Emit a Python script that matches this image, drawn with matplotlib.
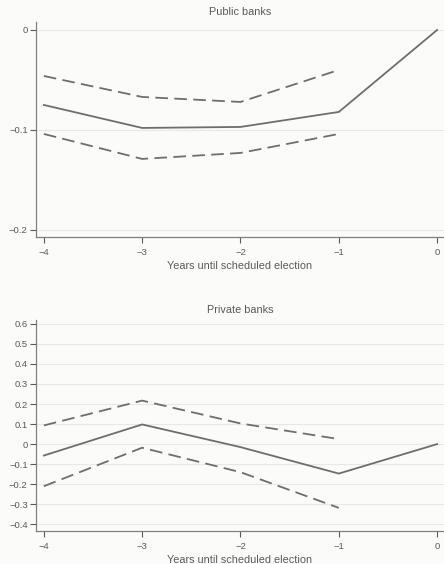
import matplotlib
matplotlib.use('Agg')
import matplotlib.pyplot as plt
import numpy as np

plt.rcParams['font.family'] = ['Liberation Sans', 'DejaVu Sans']

# Data
years = [-4, -3, -2, -1, 0]
years_ci = [-4, -3, -2, -1]

public_coef = [-0.075, -0.098, -0.097, -0.082, 0.0]
public_upper = [-0.046, -0.067, -0.072, -0.040]
public_lower = [-0.104, -0.129, -0.123, -0.104]

private_coef = [-0.057, 0.098, -0.015, -0.147, 0.0]
private_upper = [0.093, 0.217, 0.103, 0.025]
private_lower = [-0.210, -0.018, -0.140, -0.318]

public_ticks = [0, -0.1, -0.2]
public_ticklabels = ['0', '\u22120.1', '\u22120.2']
private_ticks = [0.6, 0.5, 0.4, 0.3, 0.2, 0.1, 0, -0.1, -0.2, -0.3, -0.4]
private_ticklabels = ['0.6', '0.5', '0.4', '0.3', '0.2', '0.1', '0',
                      '\u22120.1', '\u22120.2', '\u22120.3', '\u22120.4']
x_ticklabels = ['\u22124', '\u22123', '\u22122', '\u22121', '0']

line_col = '#6e6e6e'
text_col = '#5a5a5a'
grid_col = '#e8e8e8'

fig = plt.figure(figsize=(4.44, 5.64), dpi=100)
fig.patch.set_facecolor('#fbfbfa')

ax1 = fig.add_axes([0.081, 0.580, 0.919, 0.381])
ax2 = fig.add_axes([0.081, 0.059, 0.919, 0.374])


def style(ax, title, ticks, ticklabels, ylim):
    ax.set_facecolor('#fbfbfa')
    ax.set_title(title, fontsize=7.8, color=text_col, pad=5)
    ax.set_xlim(-4.08, 0.07)
    ax.set_ylim(*ylim)
    ax.set_xticks(years)
    ax.set_xticklabels(x_ticklabels)
    ax.set_yticks(ticks)
    ax.set_yticklabels(ticklabels)
    ax.set_xlabel('Years until scheduled election', fontsize=7.8, color=text_col, labelpad=3)
    ax.tick_params(labelsize=6.8, colors=text_col, length=4.5, width=0.8, direction='out')
    ax.tick_params(axis='y', pad=1.5)
    for s in ['top', 'right']:
        ax.spines[s].set_visible(False)
    for s in ['left', 'bottom']:
        ax.spines[s].set_color('#808080')
        ax.spines[s].set_linewidth(0.9)
    ax.yaxis.grid(True, color=grid_col, linewidth=0.8)
    ax.set_axisbelow(True)


style(ax1, 'Public banks', public_ticks, public_ticklabels, (-0.207, 0.008))
ax1.plot(years, public_coef, color=line_col, linewidth=1.3)
ax1.plot(years_ci, public_upper, color=line_col, linewidth=1.3, dashes=(7, 3.5))
ax1.plot(years_ci, public_lower, color=line_col, linewidth=1.3, dashes=(7, 3.5))

style(ax2, 'Private banks', private_ticks, private_ticklabels, (-0.432, 0.62))
ax2.plot(years, private_coef, color=line_col, linewidth=1.3)
ax2.plot(years_ci, private_upper, color=line_col, linewidth=1.3, dashes=(7, 3.5))
ax2.plot(years_ci, private_lower, color=line_col, linewidth=1.3, dashes=(7, 3.5))

fig.savefig('out.png', dpi=100, facecolor=fig.get_facecolor())
